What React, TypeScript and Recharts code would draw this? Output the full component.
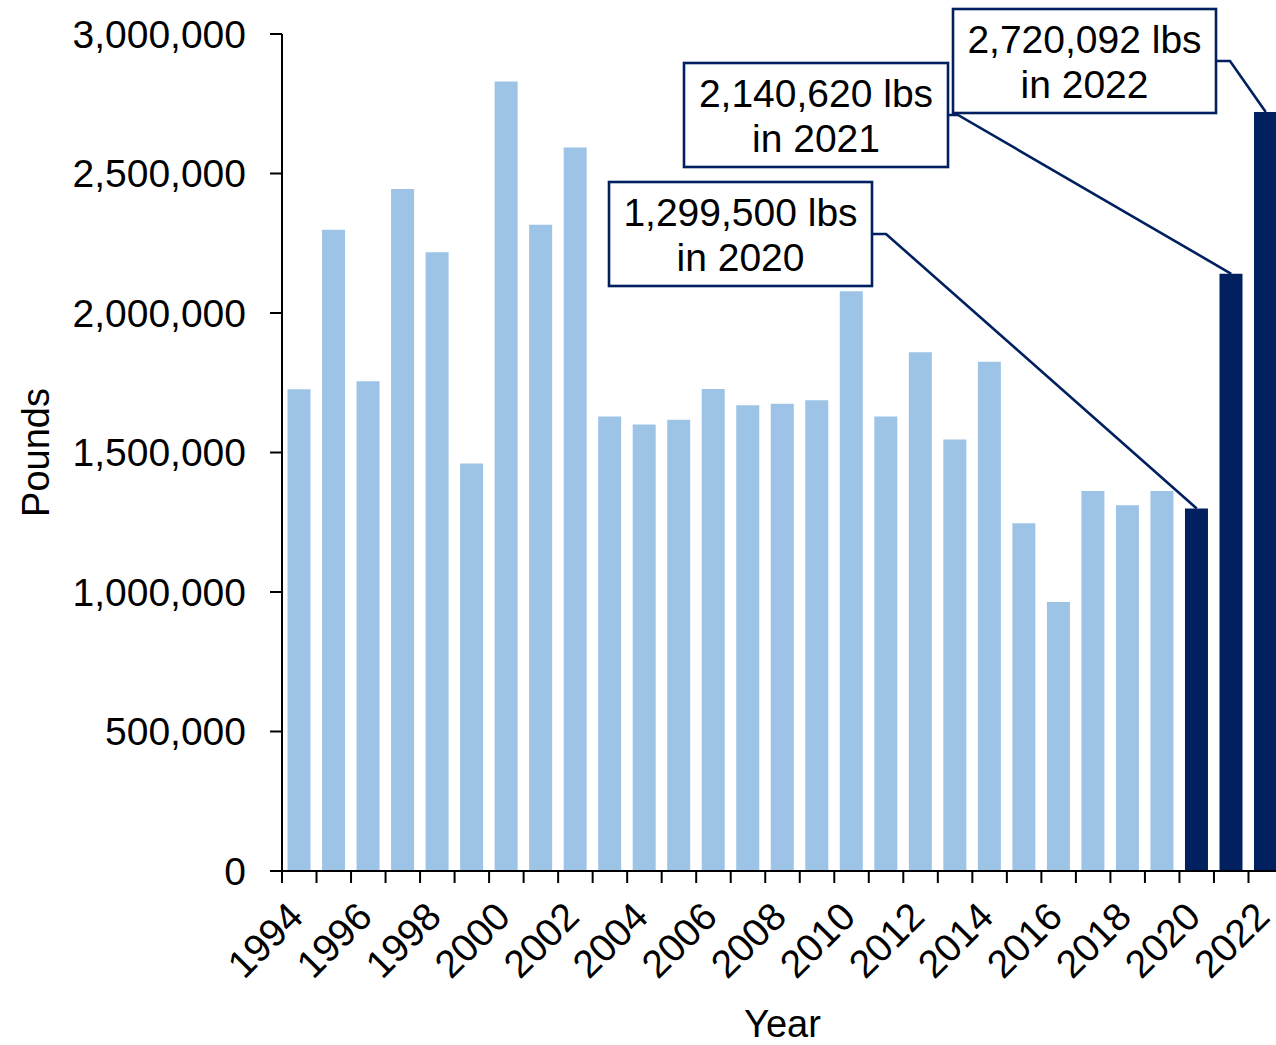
import React from "react";
import { BarChart, Bar, XAxis, YAxis, Cell, ReferenceDot, Label } from "recharts";

// values (pounds per year)
const years = [
  1994, 1995, 1996, 1997, 1998, 1999, 2000, 2001, 2002, 2003, 2004, 2005, 2006, 2007, 2008,
  2009, 2010, 2011, 2012, 2013, 2014, 2015, 2016, 2017, 2018, 2019, 2020, 2021, 2022,
];
const pounds = [
  1727000, 2298000, 1755000, 2444000, 2218000, 1461000, 2830000, 2316000, 2593000, 1629000,
  1600000, 1617000, 1728000, 1669000, 1675000, 1687000, 2078000, 1629000, 1859000, 1547000,
  1825000, 1246000, 964000, 1362000, 1311000, 1362000, 1299500, 2140620, 2720092,
];
const highlightYears = [2020, 2021, 2022];
const labelYears = years.filter((_, i) => i % 2 === 0);
const yTicks = [0, 500000, 1000000, 1500000, 2000000, 2500000, 3000000];

const data = years.map((year, i) => ({ year, pounds: pounds[i] }));

const LIGHT = "#9DC3E6";
const NAVY = "#002060";
const FONT = "'Liberation Sans', Arial, sans-serif";

const CHART_W = 1283;
const CHART_H = 1045;
const PLOT_LEFT = 282;
const BAND = (CHART_W - PLOT_LEFT) / years.length;

// callout boxes (layout only)
const CALLOUTS: Record<number, { x: number; y: number; w: number; h: number; elbowX: number }> = {
  2020: { x: 609, y: 182, w: 263, h: 104, elbowX: 886 },
  2021: { x: 684, y: 63, w: 264, h: 104, elbowX: 958 },
  2022: { x: 953, y: 9, w: 263, h: 104, elbowX: 1230 },
};

const YearTick = (props: any) => {
  const { x, y, payload } = props;
  const left = x - BAND / 2;
  const tx = x + 6;
  const ty = y + 48;
  return (
    <g>
      <line x1={left} y1={y} x2={left} y2={y + 12} stroke="#000" strokeWidth={2} />
      {labelYears.includes(payload.value) && (
        <text
          x={tx}
          y={ty}
          textAnchor="end"
          transform={`rotate(-45, ${tx}, ${ty})`}
          fontSize={39}
          fontFamily={FONT}
          fill="#000"
        >
          {payload.value}
        </text>
      )}
    </g>
  );
};

const makeCallout = (year: number, value: number) => (props: any) => {
  const { cx, cy } = props;
  const b = CALLOUTS[year];
  const sx = b.x + b.w;
  const sy = b.y + b.h / 2;
  const mid = b.x + b.w / 2;
  return (
    <g>
      <polyline
        points={`${sx},${sy} ${b.elbowX},${sy} ${cx},${cy}`}
        fill="none"
        stroke={NAVY}
        strokeWidth={2.6}
      />
      <rect x={b.x} y={b.y} width={b.w} height={b.h} fill="#fff" stroke={NAVY} strokeWidth={2.6} />
      <text x={mid} y={b.y + 43.5} textAnchor="middle" fontSize={39} fontFamily={FONT} fill="#000">
        {`${value.toLocaleString("en-US")} lbs`}
      </text>
      <text x={mid} y={b.y + 88.5} textAnchor="middle" fontSize={39} fontFamily={FONT} fill="#000">
        {`in ${year}`}
      </text>
    </g>
  );
};

const App = () => {
  return (
    <div
      style={{
        position: "absolute",
        left: 0,
        top: 0,
        width: 1276,
        height: 1045,
        overflow: "hidden",
        background: "#fff",
        fontFamily: FONT,
      }}
    >
      <BarChart
        width={CHART_W}
        height={CHART_H}
        data={data}
        margin={{ top: 34, right: 0, bottom: 0, left: 0 }}
        barCategoryGap="16%"
      >
        <XAxis
          dataKey="year"
          height={174}
          interval={0}
          tickLine={false}
          tickSize={0}
          tickMargin={0}
          tick={<YearTick />}
          axisLine={{ stroke: "#000", strokeWidth: 2 }}
          label={
            <Label
              content={(p: any) => {
                const vb = p.viewBox;
                return (
                  <text
                    x={vb.x + vb.width / 2}
                    y={1037}
                    textAnchor="middle"
                    fontSize={38}
                    fontFamily={FONT}
                    fill="#000"
                  >
                    Year
                  </text>
                );
              }}
            />
          }
        />
        <YAxis
          width={PLOT_LEFT}
          domain={[0, 3000000]}
          ticks={yTicks}
          interval={0}
          tickSize={12}
          tickMargin={24}
          tickFormatter={(v: number) => v.toLocaleString("en-US")}
          tick={{ fill: "#000", fontSize: 39, fontFamily: FONT }}
          tickLine={{ stroke: "#000", strokeWidth: 2 }}
          axisLine={{ stroke: "#000", strokeWidth: 2 }}
          label={
            <Label
              content={(p: any) => {
                const vb = p.viewBox;
                const cy = vb.y + vb.height / 2;
                return (
                  <text
                    x={49}
                    y={cy}
                    textAnchor="middle"
                    transform={`rotate(-90, 49, ${cy})`}
                    fontSize={38}
                    fontFamily={FONT}
                    fill="#000"
                  >
                    Pounds
                  </text>
                );
              }}
            />
          }
        />
        <Bar dataKey="pounds" isAnimationActive={false}>
          {data.map((d) => (
            <Cell key={d.year} fill={highlightYears.includes(d.year) ? NAVY : LIGHT} />
          ))}
        </Bar>
        {highlightYears.map((yr) => (
          <ReferenceDot
            key={yr}
            x={yr}
            y={pounds[years.indexOf(yr)]}
            r={0}
            shape={makeCallout(yr, pounds[years.indexOf(yr)])}
          />
        ))}
      </BarChart>
    </div>
  );
};

export default App;
